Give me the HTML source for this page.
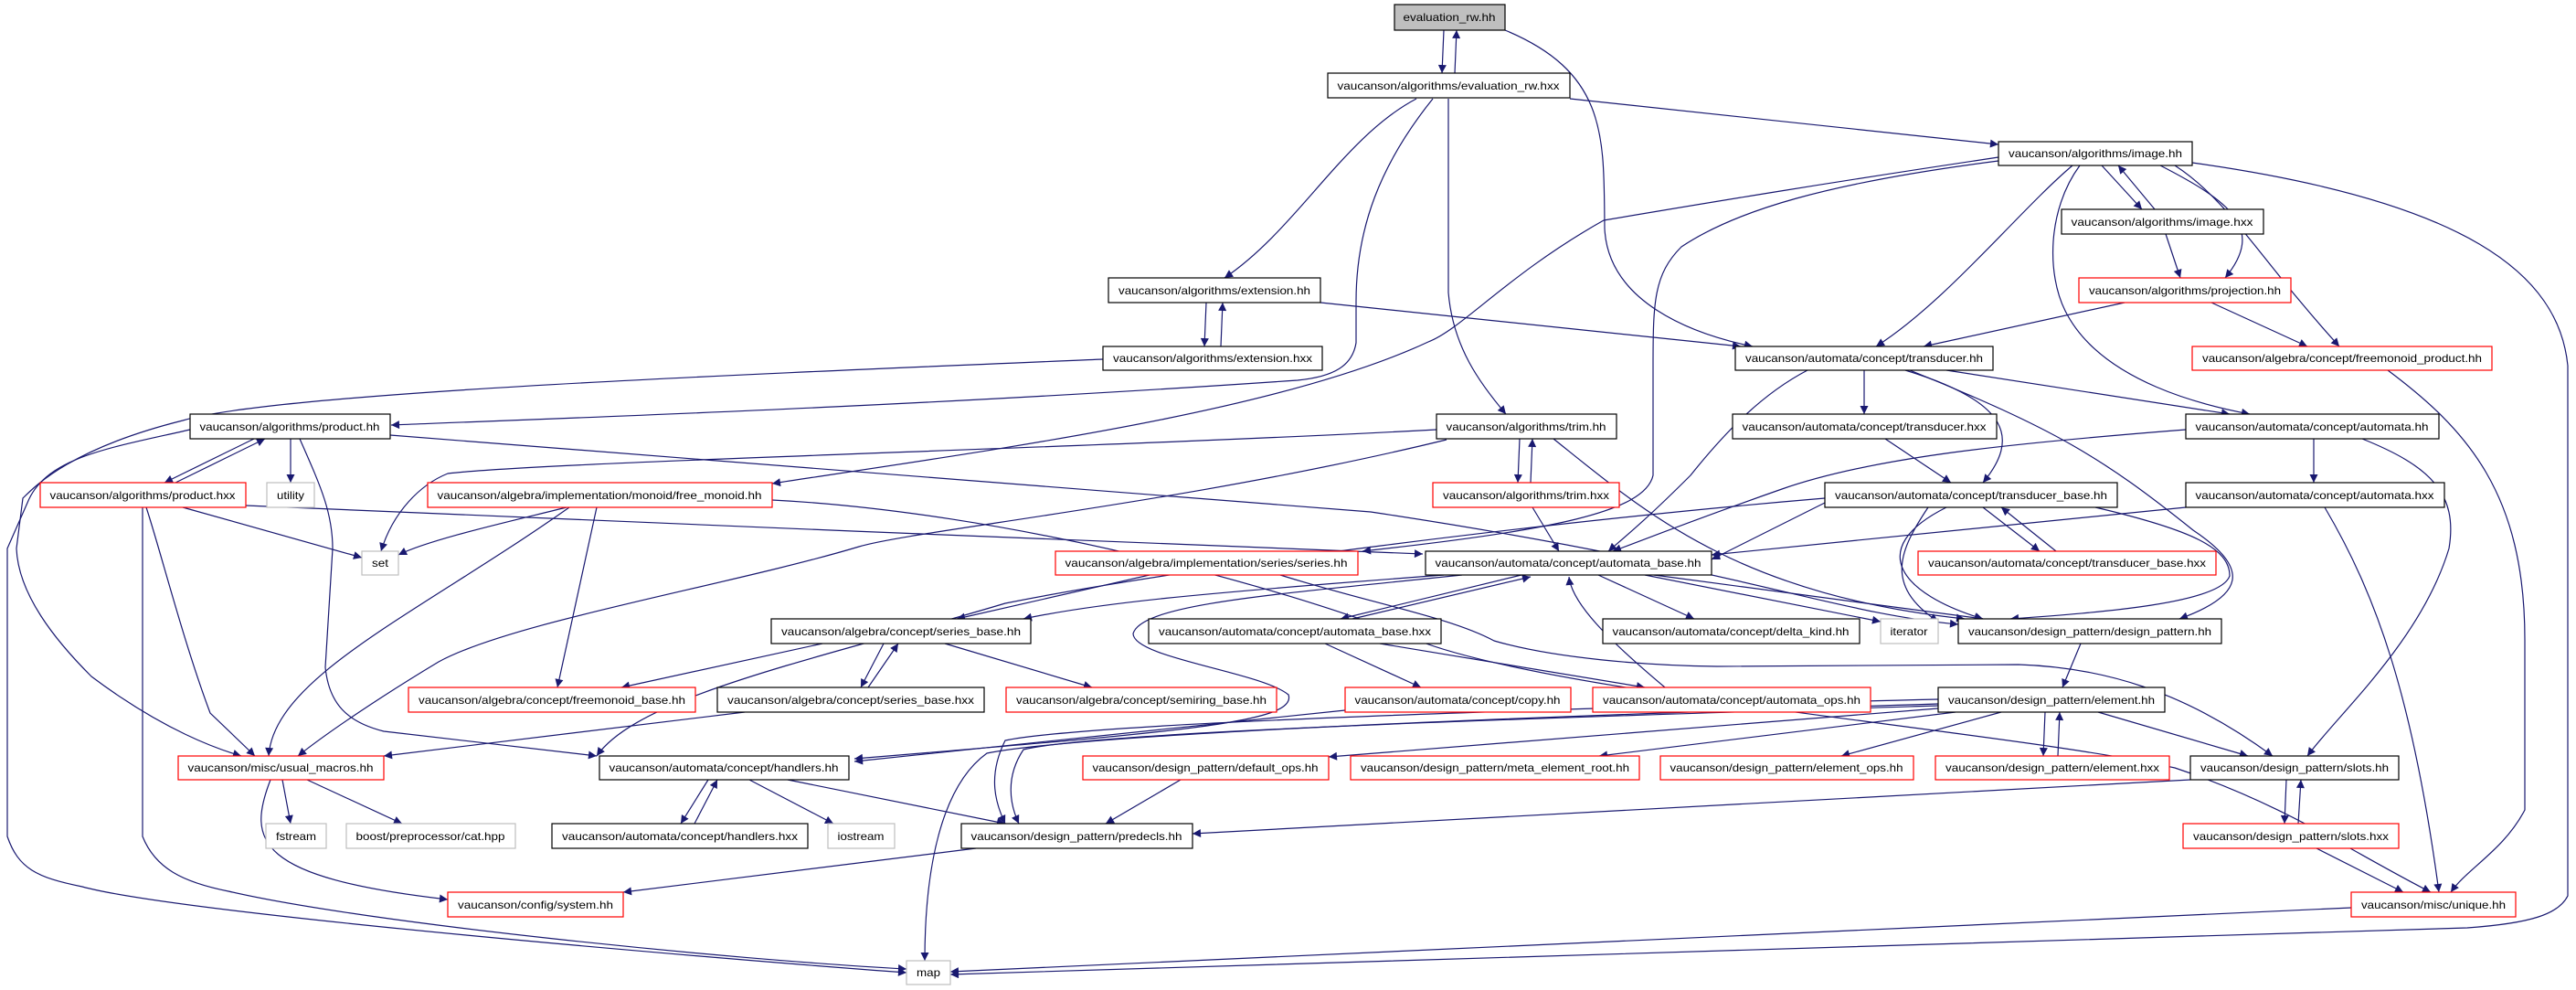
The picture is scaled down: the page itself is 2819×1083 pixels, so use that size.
<!DOCTYPE html>
<html><head><meta charset="utf-8"><style>
html,body{margin:0;padding:0;background:#fff}
svg{display:block}
text{font-family:"Liberation Sans",sans-serif;font-size:12px;fill:#000}
.e{fill:none;stroke:#191970;stroke-width:1.2}
</style></head><body>
<svg width="2819" height="1083" viewBox="0 0 2819 1083" xmlns="http://www.w3.org/2000/svg">
<defs><marker id="a" viewBox="0 0 10 10" refX="10" refY="5" markerWidth="11" markerHeight="9" markerUnits="userSpaceOnUse" orient="auto"><path d="M0,0 L10,5 L0,10 z" fill="#191970"/></marker></defs>
<g marker-end="url(#a)">
<path class="e" d="M1580,33 L1578,80"/>
<path class="e" d="M1592,80 L1594,33"/>
<path class="e" d="M1647,33 C1760,80 1755,150 1756,250 C1760,330 1850,365 1918,379"/>
<path class="e" d="M1718,108 L2187,158"/>
<path class="e" d="M1550,108 C1470,150 1420,250 1340,304"/>
<path class="e" d="M1568,108 C1510,180 1484,250 1484,330 L1484,375 C1480,400 1460,412 1420,416 C1000,445 600,458 428,465"/>
<path class="e" d="M1585,108 L1585,320 C1590,380 1620,420 1648,453"/>
<path class="e" d="M1320,331 L1318,379"/>
<path class="e" d="M1336,379 L1338,331"/>
<path class="e" d="M1445,331 L1905,379"/>
<path class="e" d="M1207,393 C800,410 300,430 200,460 C80,490 40,530 25,545 L18,600 C20,650 60,700 100,740 C180,800 240,820 264,827"/>
<path class="e" d="M208,470 C120,490 50,500 30,550 L8,600 L8,915 C20,950 40,960 90,970 C200,1000 800,1050 992,1064"/>
<path class="e" d="M156,555 L156,915 C170,950 200,965 250,975 C400,1010 800,1050 992,1060"/>
<path class="e" d="M278,480 L180,528"/>
<path class="e" d="M192,528 L290,480"/>
<path class="e" d="M318,480 L318,528"/>
<path class="e" d="M328,480 C350,530 364,560 364,600 L356,730 C360,770 380,790 420,800 L653,827"/>
<path class="e" d="M427,476 L1500,560 C1900,620 2000,670 2143,683"/>
<path class="e" d="M200,555 L396,610"/>
<path class="e" d="M160,555 C175,600 200,700 230,780 L279,827"/>
<path class="e" d="M269,553 C600,570 1200,590 1557,606"/>
<path class="e" d="M620,555 C560,570 470,590 436,607"/>
<path class="e" d="M623,555 C460,670 300,740 294,827"/>
<path class="e" d="M653,555 L610,752"/>
<path class="e" d="M845,547 C1100,560 1400,640 1550,700 C1700,760 2200,800 2380,840 C2500,880 2570,930 2660,976"/>
<path class="e" d="M2300,181 L2344,229"/>
<path class="e" d="M2358,229 L2318,181"/>
<path class="e" d="M2364,181 C2440,220 2480,250 2435,304"/>
<path class="e" d="M2268,181 C2210,230 2130,330 2053,379"/>
<path class="e" d="M2276,181 C2240,230 2240,300 2260,340 C2300,420 2420,445 2462,453"/>
<path class="e" d="M2380,181 C2440,220 2470,280 2560,379"/>
<path class="e" d="M2399,178 C2700,220 2800,300 2810,400 L2810,980 C2800,1000 2770,1010 2700,1015 L1040,1066"/>
<path class="e" d="M2187,172 C2000,200 1880,220 1755,241 C1650,300 1600,360 1563,374 C1400,450 1100,490 845,529"/>
<path class="e" d="M2187,176 C2000,200 1900,230 1840,270 C1810,300 1809,330 1809,400 L1809,520 C1800,560 1700,580 1491,603"/>
<path class="e" d="M2040,405 L2040,453"/>
<path class="e" d="M2130,405 L2440,453"/>
<path class="e" d="M2085,405 C2200,440 2210,480 2170,528"/>
<path class="e" d="M1978,405 C1930,430 1890,470 1850,520 C1800,570 1775,590 1760,603"/>
<path class="e" d="M2090,405 C2250,470 2300,500 2400,580 C2460,620 2460,650 2385,677"/>
<path class="e" d="M2063,480 L2135,528"/>
<path class="e" d="M2532,480 L2532,528"/>
<path class="e" d="M2585,480 C2660,510 2690,540 2680,600 C2650,700 2560,780 2525,827"/>
<path class="e" d="M2392,470 C2200,485 2050,500 1950,535 C1850,570 1800,590 1765,603"/>
<path class="e" d="M2392,555 L1873,607"/>
<path class="e" d="M2544,555 C2600,650 2640,760 2669,976"/>
<path class="e" d="M2613,405 C2700,470 2763,540 2763,700 L2763,886 C2740,930 2700,950 2682,976"/>
<path class="e" d="M2170,555 L2232,603"/>
<path class="e" d="M2250,603 L2190,555"/>
<path class="e" d="M2130,555 C2040,600 2080,650 2170,677"/>
<path class="e" d="M2110,555 C2080,600 2060,640 2121,680"/>
<path class="e" d="M2293,555 C2400,580 2440,600 2440,630 C2430,660 2300,670 2200,677"/>
<path class="e" d="M1997,550 L1873,612"/>
<path class="e" d="M1997,545 C1700,570 1300,620 1100,660 C900,720 700,760 653,827"/>
<path class="e" d="M1663,480 L1661,528"/>
<path class="e" d="M1675,528 L1677,480"/>
<path class="e" d="M1572,470 C1200,490 600,505 490,518 C460,530 430,560 417,603"/>
<path class="e" d="M1583,481 C1300,550 1000,580 940,598 C800,640 560,680 480,724 C420,760 360,800 326,827"/>
<path class="e" d="M1700,480 C1800,560 1900,650 2150,677"/>
<path class="e" d="M1677,555 L1706,603"/>
<path class="e" d="M1665,629 L1467,677"/>
<path class="e" d="M1480,677 L1675,631"/>
<path class="e" d="M1580,629 C1300,650 1200,660 1120,677"/>
<path class="e" d="M1749,629 L1854,677"/>
<path class="e" d="M1800,629 L2058,680"/>
<path class="e" d="M1810,629 L2170,677"/>
<path class="e" d="M1600,629 C1400,650 1250,660 1240,693 C1240,720 1380,735 1410,760 C1420,790 1300,800 935,830"/>
<path class="e" d="M2121,770 C1800,780 1200,800 1080,824 C1030,860 1012,950 1012,1051"/>
<path class="e" d="M1450,704 L1555,752"/>
<path class="e" d="M1510,704 L1800,752"/>
<path class="e" d="M1822,752 C1760,700 1720,660 1717,631"/>
<path class="e" d="M1258,629 L1047,677"/>
<path class="e" d="M1401,629 C1500,660 1587,675 1635,701 C1700,720 1800,728 1879,729 L2209,727 C2300,730 2389,755 2487,827"/>
<path class="e" d="M967,704 L942,752"/>
<path class="e" d="M950,752 L983,704"/>
<path class="e" d="M900,704 L680,752"/>
<path class="e" d="M1034,704 L1195,752"/>
<path class="e" d="M815,779 L420,827"/>
<path class="e" d="M1472,777 L935,833"/>
<path class="e" d="M775,853 L745,901"/>
<path class="e" d="M760,901 L785,853"/>
<path class="e" d="M820,853 L912,901"/>
<path class="e" d="M862,853 L1100,901"/>
<path class="e" d="M309,853 L318,901"/>
<path class="e" d="M336,853 L440,901"/>
<path class="e" d="M296,853 C270,920 280,960 490,984"/>
<path class="e" d="M1292,853 L1210,901"/>
<path class="e" d="M1068,928 L682,976"/>
<path class="e" d="M2121,775 L1454,828"/>
<path class="e" d="M2140,779 L1750,827"/>
<path class="e" d="M2190,779 L2015,827"/>
<path class="e" d="M2238,779 L2236,827"/>
<path class="e" d="M2252,827 L2254,779"/>
<path class="e" d="M2296,779 L2460,827"/>
<path class="e" d="M2121,765 C1700,775 1200,790 1100,810 C1080,850 1090,880 1100,901"/>
<path class="e" d="M2121,772 C1700,785 1200,800 1120,820 C1100,850 1105,880 1115,901"/>
<path class="e" d="M2397,853 L1305,912"/>
<path class="e" d="M2277,704 L2257,752"/>
<path class="e" d="M2502,853 L2500,901"/>
<path class="e" d="M2515,901 L2518,853"/>
<path class="e" d="M2535,928 L2630,976"/>
<path class="e" d="M2573,993 L1040,1063"/>
<path class="e" d="M2325,331 L2105,379"/>
<path class="e" d="M2420,331 L2525,379"/>
<path class="e" d="M2370,256 L2386,304"/>
</g>
<g stroke-width="1.2">
<rect x="1526" y="5" width="121" height="28" fill="#bfbfbf" stroke="#000"/>
<rect x="1453" y="80" width="265" height="27" fill="#fff" stroke="#000"/>
<rect x="1213" y="304" width="232" height="27" fill="#fff" stroke="#000"/>
<rect x="1207" y="379" width="240" height="26" fill="#fff" stroke="#000"/>
<rect x="1572" y="453" width="197" height="27" fill="#fff" stroke="#000"/>
<rect x="1568" y="528" width="204" height="27" fill="#fff" stroke="#f00"/>
<rect x="2187" y="155" width="212" height="26" fill="#fff" stroke="#000"/>
<rect x="2256" y="229" width="221" height="27" fill="#fff" stroke="#000"/>
<rect x="2275" y="304" width="232" height="27" fill="#fff" stroke="#f00"/>
<rect x="1899" y="379" width="282" height="26" fill="#fff" stroke="#000"/>
<rect x="2399" y="379" width="328" height="26" fill="#fff" stroke="#f00"/>
<rect x="1896" y="453" width="289" height="27" fill="#fff" stroke="#000"/>
<rect x="2392" y="453" width="277" height="27" fill="#fff" stroke="#000"/>
<rect x="1997" y="528" width="320" height="27" fill="#fff" stroke="#000"/>
<rect x="2392" y="528" width="283" height="27" fill="#fff" stroke="#000"/>
<rect x="208" y="453" width="219" height="27" fill="#fff" stroke="#000"/>
<rect x="44" y="528" width="225" height="27" fill="#fff" stroke="#f00"/>
<rect x="292" y="528" width="52" height="27" fill="#fff" stroke="#bfbfbf"/>
<rect x="468" y="528" width="377" height="27" fill="#fff" stroke="#f00"/>
<rect x="396" y="603" width="40" height="26" fill="#fff" stroke="#bfbfbf"/>
<rect x="447" y="752" width="314" height="27" fill="#fff" stroke="#f00"/>
<rect x="785" y="752" width="292" height="27" fill="#fff" stroke="#000"/>
<rect x="844" y="677" width="284" height="27" fill="#fff" stroke="#000"/>
<rect x="195" y="827" width="225" height="26" fill="#fff" stroke="#f00"/>
<rect x="656" y="827" width="273" height="26" fill="#fff" stroke="#000"/>
<rect x="291" y="901" width="66" height="27" fill="#fff" stroke="#bfbfbf"/>
<rect x="379" y="901" width="185" height="27" fill="#fff" stroke="#bfbfbf"/>
<rect x="604" y="901" width="280" height="27" fill="#fff" stroke="#000"/>
<rect x="906" y="901" width="73" height="27" fill="#fff" stroke="#bfbfbf"/>
<rect x="490" y="976" width="192" height="27" fill="#fff" stroke="#f00"/>
<rect x="992" y="1051" width="48" height="26" fill="#fff" stroke="#bfbfbf"/>
<rect x="1155" y="603" width="331" height="26" fill="#fff" stroke="#f00"/>
<rect x="1560" y="603" width="313" height="26" fill="#fff" stroke="#000"/>
<rect x="1257" y="677" width="320" height="27" fill="#fff" stroke="#000"/>
<rect x="1754" y="677" width="281" height="27" fill="#fff" stroke="#000"/>
<rect x="1101" y="752" width="296" height="27" fill="#fff" stroke="#f00"/>
<rect x="1472" y="752" width="247" height="27" fill="#fff" stroke="#f00"/>
<rect x="1743" y="752" width="304" height="27" fill="#fff" stroke="#f00"/>
<rect x="1185" y="827" width="269" height="26" fill="#fff" stroke="#f00"/>
<rect x="1478" y="827" width="316" height="26" fill="#fff" stroke="#f00"/>
<rect x="1817" y="827" width="277" height="26" fill="#fff" stroke="#f00"/>
<rect x="1052" y="901" width="253" height="27" fill="#fff" stroke="#000"/>
<rect x="2099" y="603" width="326" height="26" fill="#fff" stroke="#f00"/>
<rect x="2058" y="677" width="63" height="27" fill="#fff" stroke="#bfbfbf"/>
<rect x="2143" y="677" width="288" height="27" fill="#fff" stroke="#000"/>
<rect x="2121" y="752" width="248" height="27" fill="#fff" stroke="#000"/>
<rect x="2118" y="827" width="256" height="26" fill="#fff" stroke="#f00"/>
<rect x="2397" y="827" width="228" height="26" fill="#fff" stroke="#000"/>
<rect x="2389" y="901" width="236" height="27" fill="#fff" stroke="#f00"/>
<rect x="2573" y="976" width="180" height="27" fill="#fff" stroke="#f00"/>
</g>
<g text-anchor="middle" lengthAdjust="spacingAndGlyphs">
<text x="1586" y="23" textLength="101" lengthAdjust="spacingAndGlyphs">evaluation_rw.hh</text>
<text x="1585" y="98" textLength="243" lengthAdjust="spacingAndGlyphs">vaucanson/algorithms/evaluation_rw.hxx</text>
<text x="1329" y="322" textLength="210" lengthAdjust="spacingAndGlyphs">vaucanson/algorithms/extension.hh</text>
<text x="1327" y="396" textLength="218" lengthAdjust="spacingAndGlyphs">vaucanson/algorithms/extension.hxx</text>
<text x="1670" y="471" textLength="175" lengthAdjust="spacingAndGlyphs">vaucanson/algorithms/trim.hh</text>
<text x="1670" y="546" textLength="182" lengthAdjust="spacingAndGlyphs">vaucanson/algorithms/trim.hxx</text>
<text x="2293" y="172" textLength="190" lengthAdjust="spacingAndGlyphs">vaucanson/algorithms/image.hh</text>
<text x="2366" y="247" textLength="199" lengthAdjust="spacingAndGlyphs">vaucanson/algorithms/image.hxx</text>
<text x="2391" y="322" textLength="210" lengthAdjust="spacingAndGlyphs">vaucanson/algorithms/projection.hh</text>
<text x="2040" y="396" textLength="260" lengthAdjust="spacingAndGlyphs">vaucanson/automata/concept/transducer.hh</text>
<text x="2563" y="396" textLength="306" lengthAdjust="spacingAndGlyphs">vaucanson/algebra/concept/freemonoid_product.hh</text>
<text x="2040" y="471" textLength="267" lengthAdjust="spacingAndGlyphs">vaucanson/automata/concept/transducer.hxx</text>
<text x="2530" y="471" textLength="255" lengthAdjust="spacingAndGlyphs">vaucanson/automata/concept/automata.hh</text>
<text x="2157" y="546" textLength="298" lengthAdjust="spacingAndGlyphs">vaucanson/automata/concept/transducer_base.hh</text>
<text x="2533" y="546" textLength="261" lengthAdjust="spacingAndGlyphs">vaucanson/automata/concept/automata.hxx</text>
<text x="317" y="471" textLength="197" lengthAdjust="spacingAndGlyphs">vaucanson/algorithms/product.hh</text>
<text x="156" y="546" textLength="203" lengthAdjust="spacingAndGlyphs">vaucanson/algorithms/product.hxx</text>
<text x="318" y="546" textLength="30" lengthAdjust="spacingAndGlyphs">utility</text>
<text x="656" y="546" textLength="355" lengthAdjust="spacingAndGlyphs">vaucanson/algebra/implementation/monoid/free_monoid.hh</text>
<text x="416" y="620" textLength="18" lengthAdjust="spacingAndGlyphs">set</text>
<text x="604" y="770" textLength="292" lengthAdjust="spacingAndGlyphs">vaucanson/algebra/concept/freemonoid_base.hh</text>
<text x="931" y="770" textLength="270" lengthAdjust="spacingAndGlyphs">vaucanson/algebra/concept/series_base.hxx</text>
<text x="986" y="695" textLength="262" lengthAdjust="spacingAndGlyphs">vaucanson/algebra/concept/series_base.hh</text>
<text x="307" y="844" textLength="203" lengthAdjust="spacingAndGlyphs">vaucanson/misc/usual_macros.hh</text>
<text x="792" y="844" textLength="251" lengthAdjust="spacingAndGlyphs">vaucanson/automata/concept/handlers.hh</text>
<text x="324" y="919" textLength="44" lengthAdjust="spacingAndGlyphs">fstream</text>
<text x="471" y="919" textLength="163" lengthAdjust="spacingAndGlyphs">boost/preprocessor/cat.hpp</text>
<text x="744" y="919" textLength="258" lengthAdjust="spacingAndGlyphs">vaucanson/automata/concept/handlers.hxx</text>
<text x="942" y="919" textLength="51" lengthAdjust="spacingAndGlyphs">iostream</text>
<text x="586" y="994" textLength="170" lengthAdjust="spacingAndGlyphs">vaucanson/config/system.hh</text>
<text x="1016" y="1068" textLength="26" lengthAdjust="spacingAndGlyphs">map</text>
<text x="1320" y="620" textLength="309" lengthAdjust="spacingAndGlyphs">vaucanson/algebra/implementation/series/series.hh</text>
<text x="1716" y="620" textLength="291" lengthAdjust="spacingAndGlyphs">vaucanson/automata/concept/automata_base.hh</text>
<text x="1417" y="695" textLength="298" lengthAdjust="spacingAndGlyphs">vaucanson/automata/concept/automata_base.hxx</text>
<text x="1894" y="695" textLength="259" lengthAdjust="spacingAndGlyphs">vaucanson/automata/concept/delta_kind.hh</text>
<text x="1249" y="770" textLength="274" lengthAdjust="spacingAndGlyphs">vaucanson/algebra/concept/semiring_base.hh</text>
<text x="1595" y="770" textLength="225" lengthAdjust="spacingAndGlyphs">vaucanson/automata/concept/copy.hh</text>
<text x="1895" y="770" textLength="282" lengthAdjust="spacingAndGlyphs">vaucanson/automata/concept/automata_ops.hh</text>
<text x="1319" y="844" textLength="247" lengthAdjust="spacingAndGlyphs">vaucanson/design_pattern/default_ops.hh</text>
<text x="1636" y="844" textLength="294" lengthAdjust="spacingAndGlyphs">vaucanson/design_pattern/meta_element_root.hh</text>
<text x="1955" y="844" textLength="255" lengthAdjust="spacingAndGlyphs">vaucanson/design_pattern/element_ops.hh</text>
<text x="1178" y="919" textLength="231" lengthAdjust="spacingAndGlyphs">vaucanson/design_pattern/predecls.hh</text>
<text x="2262" y="620" textLength="304" lengthAdjust="spacingAndGlyphs">vaucanson/automata/concept/transducer_base.hxx</text>
<text x="2089" y="695" textLength="41" lengthAdjust="spacingAndGlyphs">iterator</text>
<text x="2287" y="695" textLength="266" lengthAdjust="spacingAndGlyphs">vaucanson/design_pattern/design_pattern.hh</text>
<text x="2245" y="770" textLength="226" lengthAdjust="spacingAndGlyphs">vaucanson/design_pattern/element.hh</text>
<text x="2246" y="844" textLength="234" lengthAdjust="spacingAndGlyphs">vaucanson/design_pattern/element.hxx</text>
<text x="2511" y="844" textLength="206" lengthAdjust="spacingAndGlyphs">vaucanson/design_pattern/slots.hh</text>
<text x="2507" y="919" textLength="214" lengthAdjust="spacingAndGlyphs">vaucanson/design_pattern/slots.hxx</text>
<text x="2663" y="994" textLength="158" lengthAdjust="spacingAndGlyphs">vaucanson/misc/unique.hh</text>
</g>
</svg>
</body></html>
